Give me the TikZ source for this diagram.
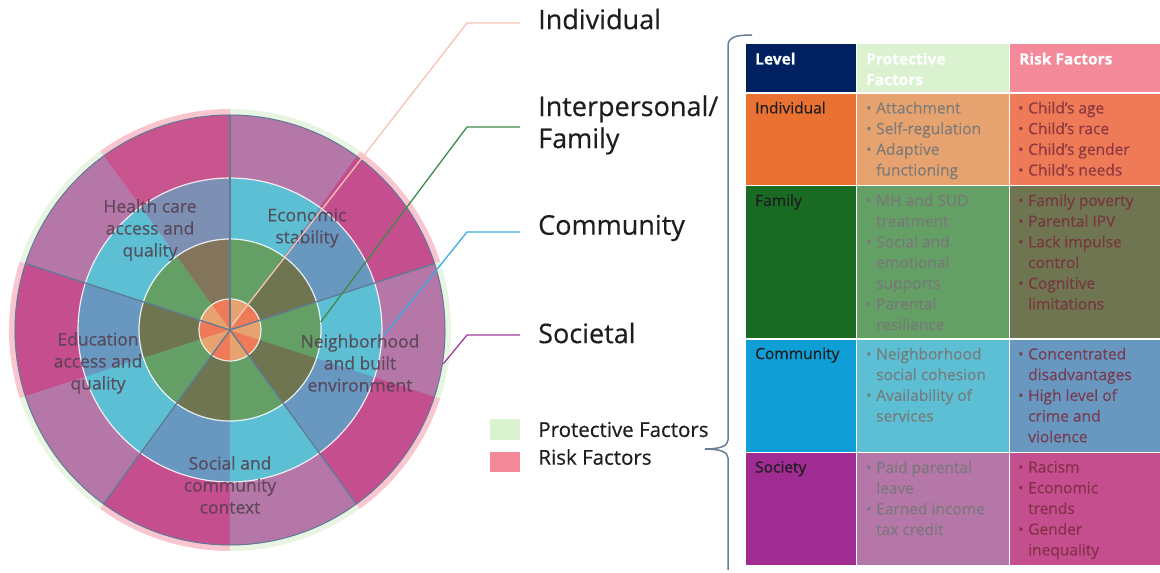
\documentclass[tikz,border=0pt]{standalone}
\usepackage{fontspec}
\setmainfont{Open Sans}[FakeBold=0.4]
\usetikzlibrary{calc,positioning}

\definecolor{indR}{HTML}{EF7A57}
\definecolor{indP}{HTML}{E6A36F}
\definecolor{famR}{HTML}{6E7550}
\definecolor{famP}{HTML}{64A066}
\definecolor{comR}{HTML}{6897BF}
\definecolor{comP}{HTML}{5CBFD3}
\definecolor{socR}{HTML}{C44E8E}
\definecolor{socP}{HTML}{B477A8}
\definecolor{haloR}{HTML}{F9C5CE}
\definecolor{haloP}{HTML}{E8F5E3}
\definecolor{spoke}{HTML}{5F7B95}
\definecolor{tint}{HTML}{D9738C}
\definecolor{wtxt}{HTML}{55404F}
\definecolor{lvlhd}{HTML}{002060}
\definecolor{prohd}{HTML}{DAF2D0}
\definecolor{riskhd}{HTML}{F4899A}
\definecolor{indL}{HTML}{E97132}
\definecolor{famL}{HTML}{196B24}
\definecolor{comL}{HTML}{0F9ED5}
\definecolor{socL}{HTML}{A02B93}
\definecolor{ptxt}{HTML}{787878}
\definecolor{rtxt}{HTML}{7A2B3C}
\definecolor{leadI}{HTML}{F5C3B4}
\definecolor{leadF}{HTML}{3F8A4A}
\definecolor{leadC}{HTML}{3AAEE0}
\definecolor{leadS}{HTML}{A03CA0}
\definecolor{bracecol}{HTML}{6A7D95}
\definecolor{ink}{HTML}{1E1E1E}

\newcommand\bitem{\makebox[10pt][l]{\raisebox{.5pt}{\scalebox{.9}{\textbullet}}}}
\newcommand\bcont{\hspace*{10pt}}

\tikzset{
  lead/.style={line width=1.3pt},
  lvltxt/.style={anchor=west, inner sep=0pt, align=left, text=ink, font=\fontsize{27}{32}\selectfont},
  wlab/.style={inner sep=0pt, align=center, text=wtxt, text opacity=.85, font=\fontsize{17.5}{22}\selectfont},
  legbox/.style={minimum width=30pt, inner sep=0pt},
  legtxt/.style={inner sep=0pt, text=ink, font=\fontsize{20.5}{24}\selectfont},
  cellbox/.style={draw=white, line width=1.2pt, inner sep=0pt, anchor=north west},
  celltxt/.style={anchor=north west, inner sep=0pt, align=left, font=\fontsize{15.5}{20.7}\selectfont},
  hdtxt/.style={celltxt, text=white, font=\fontsize{15.5}{20.7}\selectfont\bfseries},
}

\begin{document}
\begin{tikzpicture}[x=1pt,y=1pt]
\useasboundingbox (0,0) rectangle (1160,573);
%%
% Wheel
\begin{scope}[shift={(230,243)}]
  \foreach \a in {18,90,162,234,306}{
    \fill[haloR] (0,0) -- (\a:221) arc[start angle=\a, delta angle=36, radius=221] -- cycle;
    \fill[haloP] (0,0) -- ({\a+36}:221) arc[start angle=\a+36, delta angle=36, radius=221] -- cycle;
  }
  \foreach \ri/\ro/\rc/\pc in {0.01/31/indR/indP, 31/91/famR/famP, 91/152/comR/comP, 152/215/socR/socP}{
    \foreach \a in {18,90,162,234,306}{
      \filldraw[fill=\rc, draw=\rc, line width=.3pt] (\a:\ri) arc[start angle=\a, delta angle=36, radius=\ri] -- ({\a+36}:\ro) arc[start angle=\a+36, delta angle=-36, radius=\ro] -- cycle;
      \filldraw[fill=\pc, draw=\pc, line width=.3pt] ({\a+36}:\ri) arc[start angle=\a+36, delta angle=36, radius=\ri] -- ({\a+72}:\ro) arc[start angle=\a+72, delta angle=-36, radius=\ro] -- cycle;
    }
  }
  \fill[tint, fill opacity=.2] (90:31) arc[start angle=90, delta angle=36, radius=31] -- (126:215) arc[start angle=126, delta angle=-36, radius=215] -- cycle;
  \foreach \r in {31,91,152} \draw[white, opacity=.85, line width=1.2pt] (0,0) circle[radius=\r];
  \draw[spoke, line width=1pt] (0,0) circle[radius=215];
  \foreach \a in {18,90,162,234,306} \draw[spoke, line width=1.3pt] (0,0) -- (\a:215);
  % Node: sector labels
  \node[wlab] (hca) at (-80,100) {Health care\\access and\\quality};
  \node[wlab] (eco) at (77,102) {Economic\\stability};
  \node[wlab] (nbe) at (130,-33) {Neighborhood\\and built\\environment};
  \node[wlab] (eaq) at (-132,-33) {Education\\access and\\quality};
  \node[wlab] (scc) at (0,-155) {Social and\\community\\context};
\end{scope}
%%
% Node: level labels
\coordinate (c) at (230,243);
\node[lvltxt] (lI) at (538,554) {Individual};
\node[lvltxt] (lF) at (538,448) {Interpersonal/\\Family};
\node[lvltxt] (lC) at (538,345) {Community};
\node[lvltxt] (lS) at (538,240) {Societal};
% Edge: wheel -> level labels
\coordinate (sI) at (232,248);
\coordinate (kI) at (467,550);
\coordinate (eI) at (520,550);
\coordinate (sF) at ($(c)+(5:91)$);
\coordinate (kF) at (467,446);
\coordinate (eF) at (520,446);
\coordinate (sC) at ($(c)+(-2:154)$);
\coordinate (kC) at (467,341);
\coordinate (eC) at (520,341);
\coordinate (sS) at ($(c)+(-9:216)$);
\coordinate (kS) at (467,238);
\coordinate (eS) at (520,238);
\draw[lead, leadI] (sI) -- (kI) -- (eI);
\draw[lead, leadF] (sF) -- (kF) -- (eF);
\draw[lead, leadC] (sC) -- (kC) -- (eC);
\draw[lead, leadS] (sS) -- (kS) -- (eS);
%%
% Node: legend
\node[legbox, fill=prohd, minimum height=21pt] (gP) at (505,143.5) {};
\node[legbox, fill=riskhd, minimum height=20pt] (gR) at (505,111) {};
\node[legtxt, right=18pt of gP] (tP) {Protective Factors};
\node[legtxt, right=18pt of gR, yshift=5pt] (tR) {Risk Factors};
%%
% Brace
\draw[bracecol, line width=1.5pt] (752,538) .. controls (736,538) and (728,536) .. (728,527) -- (728,133) .. controls (728,127) and (720,124) .. (705,124) .. controls (720,124) and (728,121) .. (728,115) -- (728,3);
%%
% Table: header
\node[cellbox, fill=lvlhd, minimum width=111pt, minimum height=49.5pt] (hL) at (745,530) {};
\node[cellbox, fill=prohd, minimum width=153pt, minimum height=49.5pt] (hP) at (856,530) {};
\node[cellbox, fill=riskhd, minimum width=151pt, minimum height=49.5pt] (hR) at (1009,530) {};
\node[hdtxt] (thL) at ([shift={(10,-9.5)}]hL.north west) {Level};
\node[hdtxt] (thP) at ([shift={(10,-9.5)}]hP.north west) {Protective\\Factors};
\node[hdtxt] (thR) at ([shift={(10,-9.5)}]hR.north west) {Risk Factors};
% Table: individual
\node[cellbox, fill=indL, minimum width=111pt, minimum height=92.5pt] (iL) at (745,480.5) {};
\node[cellbox, fill=indP, minimum width=153pt, minimum height=92.5pt] (iP) at (856,480.5) {};
\node[cellbox, fill=indR, minimum width=151pt, minimum height=92.5pt] (iR) at (1009,480.5) {};
\node[celltxt, text=ink] (tiL) at ([shift={(10,-9)}]iL.north west) {Individual};
\node[celltxt, text=ptxt, text opacity=.9] (tiP) at ([shift={(10,-9)}]iP.north west) {\bitem Attachment\\\bitem Self-regulation\\\bitem Adaptive\\\bcont functioning};
\node[celltxt, text=rtxt, text opacity=.8] (tiR) at ([shift={(9,-9)}]iR.north west) {\bitem Child’s age\\\bitem Child’s race\\\bitem Child’s gender\\\bitem Child’s needs};
% Table: family
\node[cellbox, fill=famL, minimum width=111pt, minimum height=153.5pt] (fL) at (745,388) {};
\node[cellbox, fill=famP, minimum width=153pt, minimum height=153.5pt] (fP) at (856,388) {};
\node[cellbox, fill=famR, minimum width=151pt, minimum height=153.5pt] (fR) at (1009,388) {};
\node[celltxt, text=ink] (tfL) at ([shift={(10,-9)}]fL.north west) {Family};
\node[celltxt, text=ptxt, text opacity=.9] (tfP) at ([shift={(10,-9)}]fP.north west) {\bitem MH and SUD\\\bcont treatment\\\bitem Social and\\\bcont emotional\\\bcont supports\\\bitem Parental\\\bcont resilience};
\node[celltxt, text=rtxt, text opacity=.8] (tfR) at ([shift={(9,-9)}]fR.north west) {\bitem Family poverty\\\bitem Parental IPV\\\bitem Lack impulse\\\bcont control\\\bitem Cognitive\\\bcont limitations};
% Table: community
\node[cellbox, fill=comL, minimum width=111pt, minimum height=113.5pt] (cL) at (745,234.5) {};
\node[cellbox, fill=comP, minimum width=153pt, minimum height=113.5pt] (cP) at (856,234.5) {};
\node[cellbox, fill=comR, minimum width=151pt, minimum height=113.5pt] (cR) at (1009,234.5) {};
\node[celltxt, text=ink] (tcL) at ([shift={(10,-9)}]cL.north west) {Community};
\node[celltxt, text=ptxt, text opacity=.9] (tcP) at ([shift={(10,-9)}]cP.north west) {\bitem Neighborhood\\\bcont social cohesion\\\bitem Availability of\\\bcont services};
\node[celltxt, text=rtxt, text opacity=.8] (tcR) at ([shift={(9,-9)}]cR.north west) {\bitem Concentrated\\\bcont disadvantages\\\bitem High level of\\\bcont crime and\\\bcont violence};
% Table: society
\node[cellbox, fill=socL, minimum width=111pt, minimum height=113pt] (sL) at (745,121) {};
\node[cellbox, fill=socP, minimum width=153pt, minimum height=113pt] (sP) at (856,121) {};
\node[cellbox, fill=socR, minimum width=151pt, minimum height=113pt] (sR) at (1009,121) {};
\node[celltxt, text=ink] (tsL) at ([shift={(10,-9)}]sL.north west) {Society};
\node[celltxt, text=ptxt, text opacity=.9] (tsP) at ([shift={(10,-9)}]sP.north west) {\bitem Paid parental\\\bcont leave\\\bitem Earned income\\\bcont tax credit};
\node[celltxt, text=rtxt, text opacity=.8] (tsR) at ([shift={(9,-9)}]sR.north west) {\bitem Racism\\\bitem Economic\\\bcont trends\\\bitem Gender\\\bcont inequality};
%
\end{tikzpicture}
\end{document}
